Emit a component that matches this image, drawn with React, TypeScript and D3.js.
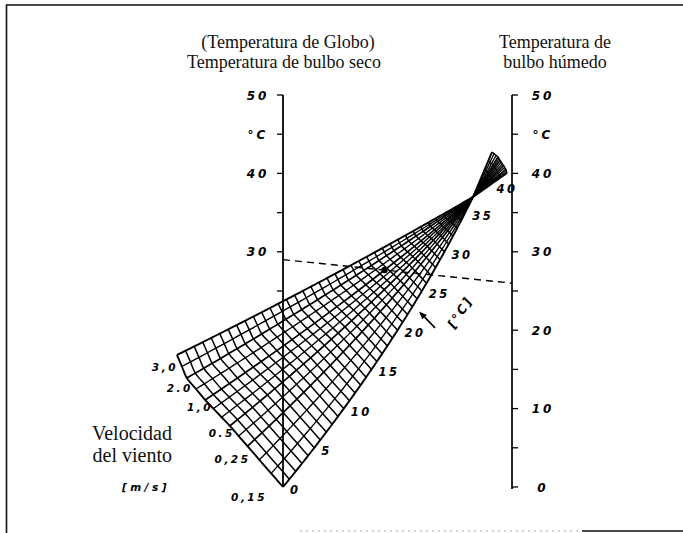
import React from "react";
import * as d3 from "d3";

// Shared °C scale of the two vertical axes
const dryBulbTickValues = [25, 30, 35, 40, 45, 50];
const dryBulbLabelValues = [50, 45, 40, 30];
const dryBulbLabelTexts = ["50", "°C", "40", "30"];
const wetBulbTickValues = [0, 5, 10, 15, 20, 25, 30, 35, 40, 45, 50];
const wetBulbLabelValues = [50, 45, 40, 30, 20, 10, 0];
const wetBulbLabelTexts = ["50", "°C", "40", "30", "20", "10", "0"];

// Wind-speed curves of the effective-temperature grid (m/s).
// u = fraction of the way from the dry-bulb axis to the wet-bulb axis,
// t = height on the °C scale of the axes.
const windSpeeds = [0.15, 0.25, 0.5, 1.0, 2.0, 3.0];
const windSpeedTexts = ["0,15", "0,25", "0.5", "1,0", "2.0", "3,0"];
// where each curve meets the 0 °C effective-temperature line
const windBaseU = [0, -0.155, -0.232, -0.34, -0.42, -0.463];
const windBaseT = [0, 5.2, 7.8, 11.1, 13.9, 16.84];
// outer end of each curve past the crossover (42 °C line)
const windTopU = [0.913, 0.939, 0.948, 0.963, 0.973, 0.978];
const windTopT = [42.73, 42.09, 41.65, 41.01, 40.52, 40.05];
// sideways bow of each curve halfway up, in axis-width units
const windBow = [0.052, 0.048, 0.044, 0.038, 0.031, 0.026];
// unlabelled curves drawn between neighbouring labelled speeds
const windMinorDivisions = [3, 2, 3, 2, 2];

// all wind curves pass through one point at 37 °C effective temperature
const crossoverU = 0.83;
const crossoverT = 37;
const effTempMax = 42;
const effTempLabelValues = [0, 5, 10, 15, 20, 25, 30, 35, 40];

// worked example: dry bulb 29 °C, wet bulb 26 °C, wind 1 m/s
const exampleDryBulb = 29;
const exampleWetBulb = 26;
const exampleWind = 1.0;

type Pt = [number, number];
type WindCurve = {
  bu: number;
  bt: number;
  tu: number;
  tt: number;
  bow: number;
  major: boolean;
  index: number;
};

const NUM_FONT = "'DejaVu Sans', sans-serif";
const SERIF = "'Liberation Serif', 'Times New Roman', serif";

export default function App() {
  const x = d3.scaleLinear().domain([0, 1]).range([283, 512]);
  const y = d3.scaleLinear().domain([0, 50]).range([487, 95]);

  // labelled + intermediate wind curves, ordered from 0.15 to 3.0 m/s
  const windCurves: WindCurve[] = [];
  windSpeeds.forEach((_, i) => {
    windCurves.push({
      bu: windBaseU[i],
      bt: windBaseT[i],
      tu: windTopU[i],
      tt: windTopT[i],
      bow: windBow[i],
      major: true,
      index: i,
    });
    if (i < windSpeeds.length - 1) {
      const n = windMinorDivisions[i];
      for (let k = 1; k < n; k++) {
        const f = k / n;
        const mix = (a: number[]) => a[i] + (a[i + 1] - a[i]) * f;
        windCurves.push({
          bu: mix(windBaseU),
          bt: mix(windBaseT),
          tu: mix(windTopU),
          tt: mix(windTopT),
          bow: mix(windBow),
          major: false,
          index: -1,
        });
      }
    }
  });

  // grid node of a wind curve at a given effective temperature
  const node = (c: WindCurve, e: number): Pt => {
    if (e <= crossoverT) {
      const s = e / crossoverT;
      const u = c.bu + (crossoverU - c.bu) * s + c.bow * 4 * s * (1 - s);
      const t = c.bt + (crossoverT - c.bt) * s;
      return [x(u), y(t)];
    }
    const s = (e - crossoverT) / (effTempMax - crossoverT);
    return [
      x(crossoverU + (c.tu - crossoverU) * s),
      y(crossoverT + (c.tt - crossoverT) * s),
    ];
  };

  const smooth = d3.line<Pt>().curve(d3.curveCatmullRom.alpha(0.5));
  const straight = d3.line<Pt>();

  const effTemps = d3.range(0, effTempMax + 1).filter((e) => e !== crossoverT);
  const windSamples = d3.range(0, effTempMax + 0.001, 0.5);

  // example line and its crossing with the 1 m/s curve
  const exA: Pt = [x(0), y(exampleDryBulb)];
  const exB: Pt = [x(1), y(exampleWetBulb)];
  const exCurve = windCurves.find(
    (c) => c.major && windSpeeds[c.index] === exampleWind
  )!;
  const side = (p: Pt) =>
    (exB[0] - exA[0]) * (p[1] - exA[1]) - (exB[1] - exA[1]) * (p[0] - exA[0]);
  let dot: Pt | null = null;
  {
    let prev = node(exCurve, 0);
    let sPrev = side(prev);
    for (let e = 0.1; e <= crossoverT; e += 0.1) {
      const p = node(exCurve, e);
      const s = side(p);
      if (sPrev * s <= 0) {
        const f = sPrev / (sPrev - s);
        dot = [prev[0] + (p[0] - prev[0]) * f, prev[1] + (p[1] - prev[1]) * f];
        break;
      }
      prev = p;
      sPrev = s;
    }
  }

  // arrow pointing up the effective-temperature scale
  const arrowTail: Pt = [x(0.664), y(20.3)];
  const arrowHead: Pt = [x(0.594), y(22.4)];
  const adx = arrowHead[0] - arrowTail[0];
  const ady = arrowHead[1] - arrowTail[1];
  const alen = Math.hypot(adx, ady);
  const ux = adx / alen;
  const uy = ady / alen;
  const headLen = 8;
  const headW = 3.2;
  const hb: Pt = [arrowHead[0] - ux * headLen, arrowHead[1] - uy * headLen];
  const headPts = [
    arrowHead,
    [hb[0] - uy * headW, hb[1] + ux * headW],
    [hb[0] + uy * headW, hb[1] - ux * headW],
  ]
    .map((p) => p.join(","))
    .join(" ");
  const unitPos: Pt = [x(0.773), y(22.3)];

  const numStyle: React.CSSProperties = {
    fontFamily: NUM_FONT,
    fontStyle: "italic",
    fontWeight: "bold",
  };

  // label placement next to the 0 °C end of each labelled wind curve
  const speedLabelDx = [-16, 3, 5, 8, 6, 1];
  const speedLabelDy = [14, 17, 11, 11, 14, 16];

  const firstCurve = windCurves[0];
  const lastCurve = windCurves[windCurves.length - 1];

  return (
    <div style={{ position: "absolute", left: 0, top: 0 }}>
      <svg
        width={683}
        height={533}
        style={{ display: "block", background: "#fff" }}
      >
        {/* frame */}
        <g stroke="#111" fill="none">
          <line x1={6} y1={5} x2={683} y2={5} strokeWidth={1.6} />
          <line x1={6.5} y1={4.5} x2={6.5} y2={533} strokeWidth={1.6} />
          <line x1={582} y1={531} x2={683} y2={531} strokeWidth={1.6} />
          <line
            x1={300}
            y1={531}
            x2={582}
            y2={531}
            strokeWidth={1}
            stroke="#aaa"
            strokeDasharray="2,4"
          />
        </g>

        {/* titles */}
        <g fontFamily={SERIF} fontSize={18} fill="#111" textAnchor="middle">
          <text x={288} y={48}>(Temperatura de Globo)</text>
          <text x={284} y={68}>Temperatura de bulbo seco</text>
          <text x={555} y={48}>Temperatura de</text>
          <text x={555} y={68}>bulbo húmedo</text>
        </g>
        <g fontFamily={SERIF} fontSize={20} fill="#111" textAnchor="end">
          <text x={172} y={440}>Velocidad</text>
          <text x={172} y={462}>del viento</text>
        </g>
        <text
          x={170}
          y={491}
          textAnchor="end"
          fontSize={10.5}
          letterSpacing={3.5}
          style={numStyle}
        >
          [m/s]
        </text>

        {/* effective-temperature grid */}
        <g fill="none" stroke="#000" strokeLinejoin="round">
          {effTemps.map((e) => (
            <path
              key={"et" + e}
              d={smooth(windCurves.map((c) => node(c, e))) || ""}
              strokeWidth={e === 0 ? 1.9 : 1.5}
            />
          ))}
          {windCurves.map((c, i) => (
            <path
              key={"w" + i}
              d={straight(windSamples.map((e) => node(c, e))) || ""}
              strokeWidth={
                i === 0 || i === windCurves.length - 1 ? 1.9 : c.major ? 1.7 : 1.35
              }
            />
          ))}
        </g>

        {/* dry-bulb axis */}
        <g stroke="#000" fill="none">
          <line x1={x(0)} y1={y(50)} x2={x(0)} y2={y(0)} strokeWidth={1.8} />
          {dryBulbTickValues.map((v) => (
            <line
              key={v}
              x1={x(0) - 6}
              x2={x(0)}
              y1={y(v)}
              y2={y(v)}
              strokeWidth={1.3}
            />
          ))}
        </g>
        <g fontSize={12} letterSpacing={3} textAnchor="middle" style={numStyle}>
          {dryBulbLabelValues.map((v, i) => (
            <text key={v} x={258} y={y(v) + 4.5}>
              {dryBulbLabelTexts[i]}
            </text>
          ))}
        </g>

        {/* wet-bulb axis */}
        <g stroke="#000" fill="none">
          <line x1={x(1)} y1={y(50)} x2={x(1)} y2={y(0) + 2} strokeWidth={1.7} />
          {wetBulbTickValues.map((v) => (
            <line
              key={v}
              x1={x(1)}
              x2={x(1) + 6}
              y1={y(v)}
              y2={y(v)}
              strokeWidth={1.3}
            />
          ))}
        </g>
        <g fontSize={12} letterSpacing={3} textAnchor="middle" style={numStyle}>
          {wetBulbLabelValues.map((v, i) => (
            <text key={v} x={543} y={y(v) + 4.5}>
              {wetBulbLabelTexts[i]}
            </text>
          ))}
        </g>

        {/* example reading */}
        <line
          x1={exA[0]}
          y1={exA[1]}
          x2={exB[0]}
          y2={exB[1]}
          stroke="#000"
          strokeWidth={1.4}
          strokeDasharray="7,5"
        />
        {dot && <circle cx={dot[0]} cy={dot[1]} r={3.2} fill="#000" />}

        {/* wind-speed labels */}
        <g fontSize={10.5} letterSpacing={2.5} textAnchor="end" style={numStyle}>
          {windCurves
            .filter((c) => c.major)
            .map((c) => {
              const p = node(c, 0);
              return (
                <text
                  key={c.index}
                  x={p[0] + speedLabelDx[c.index]}
                  y={p[1] + speedLabelDy[c.index]}
                >
                  {windSpeedTexts[c.index]}
                </text>
              );
            })}
        </g>

        {/* effective-temperature labels */}
        <g fontSize={11.5} letterSpacing={2.5} style={numStyle}>
          {effTempLabelValues.map((e) => {
            const p =
              e <= crossoverT ? node(firstCurve, e) : node(lastCurve, e);
            const dx = e <= crossoverT ? 7 : 3;
            const dy = e <= crossoverT ? 7 : 10;
            return (
              <text key={e} x={p[0] + dx} y={p[1] + dy}>
                {e}
              </text>
            );
          })}
        </g>

        {/* scale direction arrow and unit */}
        <line
          x1={arrowTail[0]}
          y1={arrowTail[1]}
          x2={hb[0]}
          y2={hb[1]}
          stroke="#000"
          strokeWidth={1.6}
        />
        <polygon points={headPts} fill="#000" />
        <text
          x={unitPos[0]}
          y={unitPos[1]}
          fontSize={12.5}
          letterSpacing={2}
          textAnchor="middle"
          dominantBaseline="central"
          transform={`rotate(-57 ${unitPos[0]} ${unitPos[1]})`}
          style={numStyle}
        >
          [°C]
        </text>
      </svg>
    </div>
  );
}
